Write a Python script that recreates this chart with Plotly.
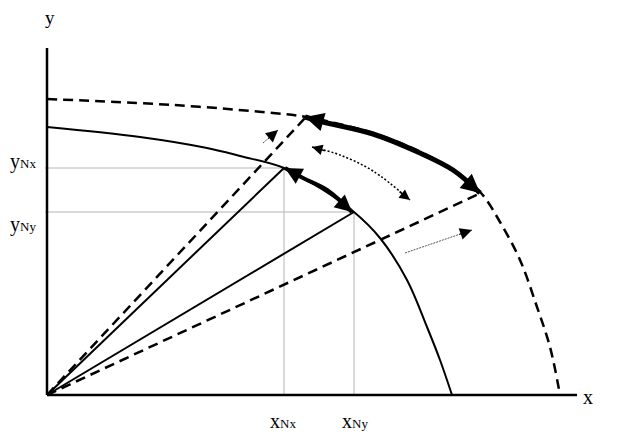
import math
import plotly.graph_objects as go

# ---- data (chart units, origin at the axes' corner) ----
inner_x = [0, 93, 160, 193, 237, 273, 307, 333, 360, 380, 393, 405]
inner_y = [268, 258, 247, 239, 227, 207, 183, 157, 115, 68, 35, 0]

outer_x = [0, 126, 226, 259, 326, 376, 408, 434, 453, 473, 490, 503, 513]
outer_y = [296, 290, 282, 278, 262, 242, 223, 202, 173, 135, 88, 48, 0]

# points on the curves
pt_A = (237, 227)   # (xNx, yNx)
pt_B = (307, 183)   # (xNy, yNy)
pt_C = (259, 278)
pt_D = (434, 202)

# curved arrows
arcAB_x = [238, 256, 280, 305]
arcAB_y = [227, 217, 205, 183]
arcCD_x = [258, 276, 326, 373, 406, 433]
arcCD_y = [278, 273, 261, 242, 225, 202]
dotted_x = [265, 293, 326, 363]
dotted_y = [248, 240, 224, 195]

# straight thin arrows (tail -> tip)
thin1_x = [216, 231]
thin1_y = [252, 265]
thin2_x = [358, 425]
thin2_y = [142, 165]

x_axis_end = 530
y_axis_end = 347

tick_x_labels = ["x<span style='font-size:13px'>Nx</span>", "x<span style='font-size:13px'>Ny</span>"]
tick_y_labels = ["y<span style='font-size:13px'>Nx</span>", "y<span style='font-size:13px'>Ny</span>"]

FONT = "Liberation Serif, Times New Roman, serif"

fig = go.Figure()

def line(xs, ys, color="black", width=2, dash="solid", shape="linear"):
    fig.add_trace(go.Scatter(x=xs, y=ys, mode="lines",
                             line=dict(color=color, width=width, dash=dash, shape=shape),
                             hoverinfo="skip"))

# gray guide lines
for (px_, py_) in (pt_A, pt_B):
    line([-2, px_], [py_, py_], color="#b4b4b4", width=1)
    line([px_, px_], [0, py_], color="#b4b4b4", width=1)

# rays
line([0, pt_A[0]], [0, pt_A[1]], width=2)
line([0, pt_B[0]], [0, pt_B[1]], width=2)
line([0, pt_C[0]], [0, pt_C[1]], width=2.5, dash="10px,6px")
line([0, pt_D[0]], [0, pt_D[1]], width=2.5, dash="10px,6px")

# curves
line(inner_x, inner_y, width=2, shape="spline")
line(outer_x, outer_y, width=2.5, dash="10px,6px", shape="spline")

# axes
line([0, x_axis_end], [0, 0], width=2.5)
line([0, 0], [0, y_axis_end], width=2.5)

# curved arrow bodies
line(arcAB_x, arcAB_y, width=4, shape="spline")
line(arcCD_x, arcCD_y, width=5, shape="spline")
line(dotted_x, dotted_y, width=1.5, dash="2px,2px", shape="spline")
line(thin1_x, thin1_y, color="#555555", width=1, dash="2px,1px")
line(thin2_x, thin2_y, color="#555555", width=1, dash="2px,1px")

annotations = []

def head(xs, ys, end, width, size, color="black", L=14):
    if end == "end":
        tip = (xs[-1], ys[-1]); nxt = (xs[-2], ys[-2])
    else:
        tip = (xs[0], ys[0]); nxt = (xs[1], ys[1])
    dx, dy = nxt[0] - tip[0], nxt[1] - tip[1]
    d = math.hypot(dx, dy)
    L = min(L, d)
    tail = (tip[0] + dx / d * L, tip[1] + dy / d * L)
    annotations.append(dict(x=tip[0], y=tip[1], ax=tail[0], ay=tail[1],
                            xref="x", yref="y", axref="x", ayref="y",
                            text="", font=dict(size=1), borderpad=0,
                            showarrow=True, arrowhead=2,
                            arrowsize=size, arrowwidth=width, arrowcolor=color,
                            standoff=0, startstandoff=0))

head(arcAB_x, arcAB_y, "start", 4, 0.85)
head(arcAB_x, arcAB_y, "end", 4, 0.85)
head(arcCD_x, arcCD_y, "start", 5, 0.75)
head(arcCD_x, arcCD_y, "end", 5, 0.75)
head(dotted_x, dotted_y, "start", 1.5, 1.4)
head(dotted_x, dotted_y, "end", 1.5, 1.4)
head(thin1_x, thin1_y, "end", 1, 2.4)
head(thin2_x, thin2_y, "end", 1, 2.4)

# text labels
def label(x, y, text, xanchor="center", size=20, **kw):
    annotations.append(dict(x=x, y=y, xref="x", yref="y", text=text, showarrow=False,
                            xanchor=xanchor, yanchor="middle",
                            font=dict(family=FONT, size=size, color="black"), **kw))

label(3, 378, "y", size=19, borderpad=0)
label(541, -2, "x")
label(pt_A[0] - 1, -26, tick_x_labels[0])
label(pt_B[0] + 1, -26, tick_x_labels[1])
label(-9, 234, tick_y_labels[0], xanchor="right")
label(-9, 171, tick_y_labels[1], xanchor="right")

# the page body has an 8px margin: figure is 630x428 placed at (8,8)
fig.update_layout(
    width=630, height=428,
    margin=dict(l=0, r=0, t=0, b=0),
    paper_bgcolor="white", plot_bgcolor="white",
    showlegend=False,
    xaxis=dict(range=[-39, 591], visible=False, fixedrange=True),
    yaxis=dict(range=[-41, 387], visible=False, fixedrange=True),
    annotations=annotations,
)

fig.write_html("out.html")
